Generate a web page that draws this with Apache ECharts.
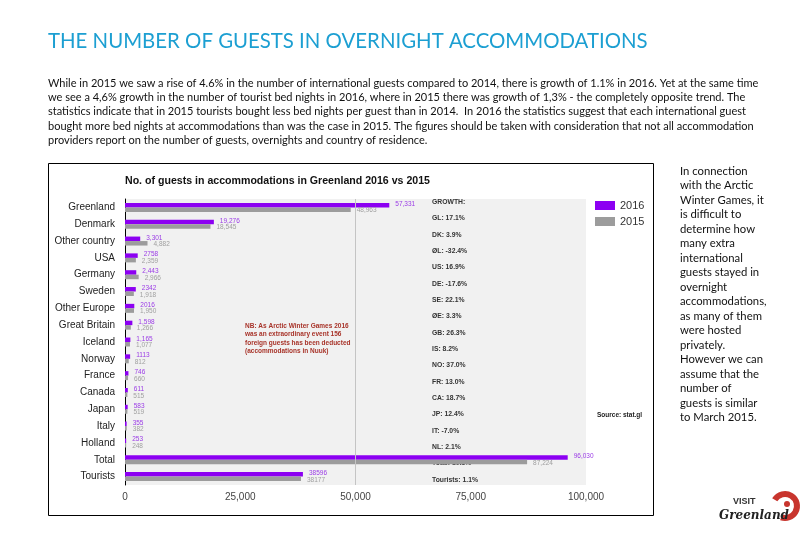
<!DOCTYPE html>
<html><head><meta charset="utf-8">
<script src="https://cdn.jsdelivr.net/npm/echarts@6/dist/echarts.min.js"></script>
<style>html,body{margin:0;padding:0;background:#fff}#c{width:810px;height:540px}</style>
</head><body><div id="c"></div>
<script>
const slideTitle = 'THE NUMBER OF GUESTS IN OVERNIGHT ACCOMMODATIONS';
const paragraphLines = [
  'While in 2015 we saw a rise of 4.6% in the number of international guests compared to 2014, there is growth of 1.1% in 2016. Yet at the same time',
  'we see a 4,6% growth in the number of tourist bed nights in 2016, where in 2015 there was growth of 1,3% - the completely opposite trend. The',
  'statistics indicate that in 2015 tourists bought less bed nights per guest than in 2014.  In 2016 the statistics suggest that each international guest',
  'bought more bed nights at accommodations than was the case in 2015. The figures should be taken with consideration that not all accommodation',
  'providers report on the number of guests, overnights and country of residence.'
];
const sideLines = ['In connection','with the Arctic','Winter Games, it','is difficult to','determine how','many extra','international','guests stayed in','overnight','accommodations,','as many of them','were hosted','privately.','However we can','assume that the','number of','guests is similar','to March 2015.'];
const chartTitle = 'No. of guests in accommodations in Greenland 2016 vs 2015';
const noteLines = ['NB: As Arctic Winter Games 2016','was an extraordinary event 156','foreign guests has been deducted','(accommodations in Nuuk)'];
const sourceText = 'Source: stat.gl';

const categories = ['Greenland','Denmark','Other country','USA','Germany','Sweden','Other Europe','Great Britain','Iceland','Norway','France','Canada','Japan','Italy','Holland','Total','Tourists'];
const v2016 = [57331,19276,3301,2758,2443,2342,2016,1598,1165,1113,746,611,583,355,253,96030,38596];
const v2015 = [48963,18545,4882,2359,2966,1918,1950,1266,1077,812,660,515,519,382,248,87224,38177];
const lbl2016 = ['57,331','19,276','3,301','2758','2,443','2342','2016','1,598','1,165','1113','746','611','583','355','253','96,030','38596'];
const lbl2015 = ['48,963','18,545','4,882','2,359','2,966','1,918','1,950','1,266','1,077','812','660','515','519','382','248','87,224','38177'];
const growthLabels = ['GROWTH:','GL: 17.1%','DK: 3.9%','ØL: -32.4%','US: 16.9%','DE: -17.6%','SE: 22.1%','ØE: 3.3%','GB: 26.3%','IS: 8.2%','NO: 37.0%','FR: 13.0%','CA: 18.7%','JP: 12.4%','IT: -7.0%','NL: 2.1%','Total: 10.1%','Tourists: 1.1%'];
const xMin = 0, xMax = 100000, xStep = 25000;
const gridLineAt = [50000];

const PURPLE = '#8c00f2', GREY = '#9c9c9c';
const chart = echarts.init(document.getElementById('c'), null, {renderer:'canvas'});
const fmt = v => v.toLocaleString('en-US');

chart.setOption({
  backgroundColor:'#ffffff',
  animation:false,
  title:[{text:chartTitle, left:120, top:171,
    textStyle:{fontFamily:'Liberation Sans', fontWeight:'bold', fontSize:10.6, color:'#111'}}],
  legend:{data:['2016','2015'], orient:'vertical', left:590, top:195, itemWidth:20, itemHeight:9, itemGap:5,
    icon:'rect', textStyle:{fontFamily:'Liberation Sans', fontSize:11, color:'#333'}},
  grid:[
    {left:125, right:224, top:199, bottom:55, show:true, backgroundColor:'#f1f1f1', borderWidth:0},
    {left:430, width:1, top:194, bottom:52, show:false}
  ],
  xAxis:[
    {gridIndex:0, type:'value', min:xMin, max:xMax, interval:xStep,
     axisLine:{show:false}, axisTick:{show:false}, splitLine:{show:false},
     axisLabel:{formatter:fmt, fontFamily:'Liberation Sans', fontSize:10, color:'#444', margin:7}},
    {gridIndex:1, type:'value', show:false}
  ],
  yAxis:[
    {gridIndex:0, type:'category', data:categories, inverse:true,
     axisLine:{show:true, lineStyle:{color:'#000', width:1}}, axisTick:{show:false},
     axisLabel:{fontFamily:'Liberation Sans', fontSize:10, color:'#222', margin:10}},
    {gridIndex:1, type:'category', data:growthLabels, inverse:true,
     axisLine:{show:false}, axisTick:{show:false},
     axisLabel:{inside:true, margin:2, fontFamily:'Liberation Sans', fontWeight:'bold', fontSize:6.8, color:'#333'}}
  ],
  series:[
    {type:'line', xAxisIndex:0, yAxisIndex:0, data:[], z:1, silent:true,
     markLine:{silent:true, symbol:['none','none'], label:{show:false},
       lineStyle:{color:'#c4c4c4', width:1, type:'solid'},
       data:gridLineAt.map(v=>({xAxis:v}))}},
    {name:'2016', type:'bar', xAxisIndex:0, yAxisIndex:0, data:v2016, barWidth:4.5, barGap:'0%', z:3,
     itemStyle:{color:PURPLE},
     label:{show:true, position:'right', distance:6, offset:[0,-1], fontFamily:'Liberation Sans', fontSize:6.5, color:'#9b3ce6',
       formatter:p=>lbl2016[p.dataIndex]}},
    {name:'2015', type:'bar', xAxisIndex:0, yAxisIndex:0, data:v2015, barWidth:4.5, barGap:'0%', z:3,
     itemStyle:{color:GREY},
     label:{show:true, position:'right', distance:6, offset:[0,1], fontFamily:'Liberation Sans', fontSize:6.5, color:'#a0a0a0',
       formatter:p=>lbl2015[p.dataIndex]}}
  ],
  graphic:[
    {type:'text', left:48, top:31, style:{text:slideTitle, fontFamily:'Lato', fontSize:20.4, fill:'#1c9fd2'}},
    {type:'text', left:48, top:76, style:{text:paragraphLines.join('\n'), fontFamily:'Lato', fontSize:11, lineHeight:14.3, fill:'#111'}},
    {type:'text', left:680, top:164, style:{text:sideLines.join('\n'), fontFamily:'Lato', fontSize:11.3, lineHeight:14.5, fill:'#111'}},
    {type:'rect', shape:{x:48.5, y:163.5, width:605, height:352}, style:{fill:'none', stroke:'#000', lineWidth:1}, z:-1},
    {type:'text', left:245, top:322, style:{text:noteLines.join('\n'), fontFamily:'Liberation Sans', fontWeight:'bold', fontSize:6.5, lineHeight:8.4, fill:'#a8342a'}},
    {type:'text', left:597, top:412, style:{text:sourceText, fontFamily:'Liberation Sans', fontWeight:'bold', fontSize:6.5, fill:'#222'}},
    {type:'group', children:[
      {type:'arc', shape:{cx:785, cy:506, r:12, startAngle:-2.6, endAngle:1.9}, style:{stroke:'#c8352e', lineWidth:6, fill:'none'}},
      {type:'circle', shape:{cx:787, cy:504, r:3}, style:{fill:'#c8352e'}},
      {type:'text', left:733, top:497, style:{text:'VISIT', fontFamily:'Liberation Sans', fontWeight:'bold', fontSize:9, fill:'#333'}},
      {type:'text', left:719, top:510, style:{text:'Greenland', fontFamily:'DejaVu Serif', fontStyle:'italic', fontWeight:'bold', fontSize:12, fill:'#222'}}
    ]}
  ]
});
</script></body></html>
